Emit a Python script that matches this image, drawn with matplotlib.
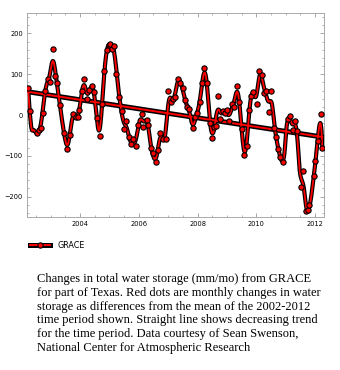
import numpy as np
import matplotlib
matplotlib.use("Agg")
import matplotlib.pyplot as plt
from matplotlib.lines import Line2D
from matplotlib.ticker import MultipleLocator

# monthly GRACE water storage anomalies (mm)
years = [2002.24, 2002.29, 2002.53, 2002.61, 2002.66, 2002.73, 2002.81, 2002.90, 2002.99,
         2003.07, 2003.15, 2003.23, 2003.31, 2003.47, 2003.56, 2003.65, 2003.76, 2003.85,
         2003.92, 2003.98, 2004.08, 2004.14, 2004.24, 2004.32, 2004.41, 2004.49, 2004.57,
         2004.67, 2004.75, 2004.83, 2004.91, 2004.98, 2005.02, 2005.08, 2005.16, 2005.24,
         2005.34, 2005.42, 2005.51, 2005.58, 2005.66, 2005.73, 2005.81, 2005.89, 2005.98,
         2006.10, 2006.15, 2006.27, 2006.32, 2006.41, 2006.49, 2006.57, 2006.65, 2006.73,
         2006.83, 2006.93, 2007.00, 2007.08, 2007.17, 2007.23, 2007.32, 2007.41, 2007.49,
         2007.57, 2007.65, 2007.72, 2007.84, 2007.92, 2007.99, 2008.08, 2008.16, 2008.23,
         2008.32, 2008.42, 2008.50, 2008.55, 2008.63, 2008.68, 2008.76, 2008.85, 2008.92,
         2009.00, 2009.08, 2009.16, 2009.25, 2009.34, 2009.42, 2009.50, 2009.59, 2009.67,
         2009.75, 2009.82, 2009.90, 2010.01, 2010.09, 2010.18, 2010.26, 2010.34, 2010.43,
         2010.51, 2010.61, 2010.68, 2010.75, 2010.81, 2010.89, 2011.08, 2011.15, 2011.23,
         2011.32, 2011.37, 2011.51, 2011.59, 2011.68, 2011.74, 2011.80, 2011.96, 2012.01,
         2012.09, 2012.19, 2012.24]
storage = [66, 11, -44, -36, -32, 6, 58, 88, 80,
           162, 96, 78, 25, -43, -83, -50, 3, -4,
           -4, 12, 58, 88, 39, 62, 70, 56, -7,
           -52, 26, 107, 160, 171, 175, 161, 170, 101,
           43, 9, -34, -14, -55, -71, -59, -76, -24,
           2, -30, -12, -24, -80, -94, -116, -86, -45,
           -58, -60, 58, 32, 38, 43, 88, 79, 67,
           36, 19, 14, -32, -6, 6, 31, 78, 114,
           78, -19, -56, -30, -28, 47, -10, 10, 4,
           12, -14, 28, 19, 72, 31, -34, -98, -76,
           12, 46, 56, 28, 108, 98, 54, 60, 8,
           58, -32, -55, -83, -102, -116, -10, -2, -36,
           -14, -38, -177, -138, -235, -233, -221, -150, -112,
           -63, 2, -82]
year_ticks = [2004, 2006, 2008, 2010, 2012]
caption = ("Changes in total water storage (mm/mo) from GRACE\n"
           "for part of Texas. Red dots are monthly changes in water\n"
           "storage as differences from the mean of the 2002-2012\n"
           "time period shown. Straight line shows decreasing trend\n"
           "for the time period. Data courtesy of Sean Swenson,\n"
           "National Center for Atmospheric Research")

t = np.array(years)
v = np.array(storage, dtype=float)

# smooth curve: local quadratic fit with gaussian weights
grid = np.linspace(t.min(), t.max(), 600)
smooth = []
for g in grid:
    w = np.exp(-0.5 * ((t - g) / 0.085) ** 2)
    A = np.vstack([np.ones_like(t), t - g, (t - g) ** 2]).T
    W = np.sqrt(w)
    coef = np.linalg.lstsq(A * W[:, None], v * W, rcond=None)[0]
    smooth.append(coef[0])
smooth = np.array(smooth)

# linear trend
slope, icpt = np.polyfit(t, v, 1)
tx = np.array([2002.2, t.max()])
ty = slope * tx + icpt

fig = plt.figure(figsize=(3.4, 3.7), dpi=100)
ax = fig.add_axes([27 / 340, 1 - 217 / 370, 297 / 340, 204 / 370])

ax.plot(grid, smooth, color='black', lw=3.0, solid_capstyle='round', zorder=2)
ax.plot(grid, smooth, color='red', lw=1.3, zorder=3)
ax.plot(tx, ty, color='black', lw=3.6, zorder=2)
ax.plot(tx, ty, color='red', lw=1.4, zorder=3)
ax.plot(t, v, 'o', ms=3.8, mfc='red', mec='black', mew=0.8, ls='none', zorder=4)

ax.set_xlim(2002.2, 2012.3)
ax.set_ylim(-250, 250)
ax.set_xticks(year_ticks)
ax.set_xticklabels([str(y) for y in year_ticks])
ax.set_yticks([-200, -100, 0, 100, 200])
ax.xaxis.set_minor_locator(MultipleLocator(0.5))
ax.yaxis.set_minor_locator(MultipleLocator(20))
ax.tick_params(which='both', direction='in', top=True, right=True, color='#999999')
ax.tick_params(which='major', length=3, width=0.6, labelsize=4.8, pad=3)
ax.tick_params(which='minor', length=1.6, width=0.5)
for s in ax.spines.values():
    s.set_color('#aaaaaa')
    s.set_linewidth(0.7)

# legend
ly = 1 - 245 / 370
fig.add_artist(Line2D([30 / 340, 50 / 340], [ly, ly], color='black', lw=3.6, transform=fig.transFigure))
fig.add_artist(Line2D([30 / 340, 50 / 340], [ly, ly], color='red', lw=1.4, transform=fig.transFigure))
fig.add_artist(Line2D([40 / 340], [ly], marker='o', ms=3.8, mfc='red', mec='black', mew=0.8,
                      transform=fig.transFigure))
fig.text(58 / 340, ly, "GRACE", fontsize=5.8, va='center', ha='left')

fig.text(37 / 340, 1 - 273 / 370, caption, family='Liberation Serif', fontsize=9.0,
         va='top', ha='left', linespacing=1.2)

fig.savefig('out.png', dpi=100)
